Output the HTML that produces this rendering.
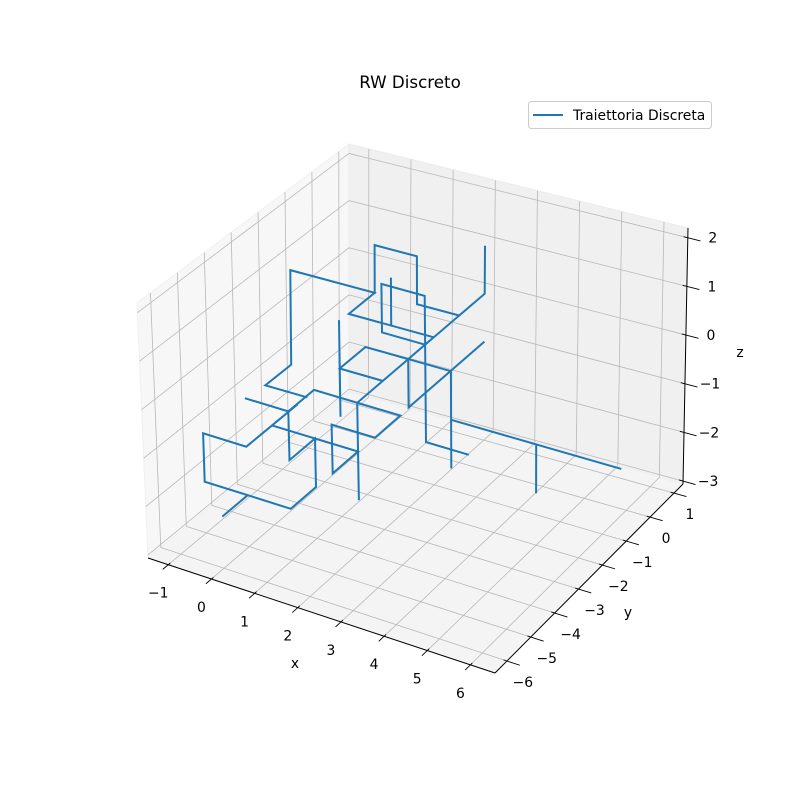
<!DOCTYPE html>
<html><head><meta charset="utf-8"><title>RW Discreto</title>
<style>
html,body{margin:0;padding:0;background:#fff;}
svg{display:block;font-family:"DejaVu Sans","Liberation Sans",sans-serif;}
</style></head>
<body>
<svg id="chart" width="800" height="800" viewBox="0 0 800 800" xmlns="http://www.w3.org/2000/svg">
<rect width="800" height="800" fill="#fff"/>
<g id="panes"></g>
<g id="grid"></g>
<g id="axes"></g>
<g id="series"></g>
<g id="labels"></g>
<text x="410" y="88" text-anchor="middle" font-size="16.7" fill="#000">RW Discreto</text>
<text x="295" y="668" text-anchor="middle" font-size="13.9" fill="#000">x</text>
<text x="628" y="617" text-anchor="middle" font-size="13.9" fill="#000">y</text>
<text x="740" y="357" text-anchor="middle" font-size="13.9" fill="#000">z</text>
<g>
<rect x="528.5" y="101.5" width="183" height="27" rx="3" fill="#fff" fill-opacity="0.8" stroke="#cccccc"/>
<line x1="533" y1="115" x2="563" y2="115" stroke="#1f77b4" stroke-width="2"/>
<text x="573" y="120" font-size="13.9" fill="#000">Traiettoria Discreta</text>
</g>
</svg>
<script>
const xs = [0,0,-1,-1,0,0,0,2,2,2,3,3,1,1,0,1,1,1,1,1,0,1,1,1,2,2,2,2,2,2,2,1,1,0,0,-2,-2,-2,-1,-2,-2,-2,0,0,2,2,1,1,2,1,1,1,1,1,3,3,3,5,5,5,7,null,4,3,3,2,2,3,null,2,2,2,null,1,1];
const ys = [-6,-5,-5,-5,-5,-3,-4,-4,-5,-5,-5,-4,-4,-5,-5,-5,-5,-4,-4,-5,-5,-5,-4,-4,-4,-4,-4,1,1,1,0,0,0,0,0,0,0,-1,-1,-1,0,0,0,-1,-1,-2,-2,-3,-3,-3,-3,-3,-3,-2,-2,-2,-2,-2,-2,-2,-2,null,-3,-3,-3,-3,-3,-3,null,-2,-2,1,null,-1,-1];
const zs = [-2,-2,-2,-1,-1,-1,-1,-1,-1,0,0,0,0,0,0,0,-1,-1,-2,-2,-2,-2,-2,-1,-1,-2,0,0,1,0,0,0,1,1,0,0,-2,-2,-2,-2,-2,0,0,0,0,0,0,0,0,0,1,-1,0,0,0,-2,-1,-1,-2,-1,-1,null,-1,-1,2,2,1,1,null,0,-1,-1,null,0,1];
const xTicks = [-1,0,1,2,3,4,5,6];
const yTicks = [-6,-5,-4,-3,-2,-1,0,1];
const zTicks = [-3,-2,-1,0,1,2];

const XL=[-1.47,6.57], YL=[-6.5,1.38], ZL=[-3.06,2.2];
const C = {
 '000':[148,558],'100':[495,673],'110':[683,484],'010':[349,392],
 '001':[137,303],'101':[492,410],'111':[688,228],'011':[349,144]
};
function lerp(a,b,t){return [a[0]+(b[0]-a[0])*t,a[1]+(b[1]-a[1])*t];}
function P(x,y,z){
  const fx=(x-XL[0])/(XL[1]-XL[0]), fy=(y-YL[0])/(YL[1]-YL[0]), fz=(z-ZL[0])/(ZL[1]-ZL[0]);
  const f0=lerp(lerp(C['000'],C['100'],fx),lerp(C['010'],C['110'],fx),fy);
  const f1=lerp(lerp(C['001'],C['101'],fx),lerp(C['011'],C['111'],fx),fy);
  return lerp(f0,f1,fz);
}
const NS='http://www.w3.org/2000/svg';
function mk(tag,attrs,parent){const e=document.createElementNS(NS,tag);for(const k in attrs)e.setAttribute(k,attrs[k]);parent.appendChild(e);return e;}
function pstr(a){return a.map(p=>p[0].toFixed(1)+','+p[1].toFixed(1)).join(' ');}

const panes=document.getElementById('panes');
let e;
e=mk('polygon',{points:pstr([P(XL[0],YL[0],ZL[0]),P(XL[0],YL[1],ZL[0]),P(XL[0],YL[1],ZL[1]),P(XL[0],YL[0],ZL[1])]),fill:'#f7f7f7',stroke:'#f0f0f0'},panes);


e=mk('polygon',{points:pstr([P(XL[0],YL[1],ZL[0]),P(XL[1],YL[1],ZL[0]),P(XL[1],YL[1],ZL[1]),P(XL[0],YL[1],ZL[1])]),fill:'#f0f0f0',stroke:'#ebebeb'},panes);


e=mk('polygon',{points:pstr([P(XL[0],YL[0],ZL[0]),P(XL[1],YL[0],ZL[0]),P(XL[1],YL[1],ZL[0]),P(XL[0],YL[1],ZL[0])]),fill:'#f4f4f4',stroke:'#f0f0f0'},panes);



const grid=document.getElementById('grid');
function gl(a,b,name){const l=mk('line',{x1:a[0],y1:a[1],x2:b[0],y2:b[1],stroke:'#b8b8b8','stroke-width':0.8},grid);
 
 }
xTicks.forEach(x=>{gl(P(x,YL[0],ZL[0]),P(x,YL[1],ZL[0]),'x-gridline-floor');gl(P(x,YL[1],ZL[0]),P(x,YL[1],ZL[1]),'x-gridline-back');});
yTicks.forEach(y=>{gl(P(XL[0],y,ZL[0]),P(XL[1],y,ZL[0]),'y-gridline-floor');gl(P(XL[0],y,ZL[0]),P(XL[0],y,ZL[1]),'y-gridline-left');});
zTicks.forEach(z=>{gl(P(XL[0],YL[0],z),P(XL[0],YL[1],z),'z-gridline-left');gl(P(XL[0],YL[1],z),P(XL[1],YL[1],z),'z-gridline-back');});

const axes=document.getElementById('axes');
function al(a,b,name,w){const l=mk('line',{x1:a[0],y1:a[1],x2:b[0],y2:b[1],stroke:'#000','stroke-width':w},axes);
 
 }
al(P(XL[0],YL[0],ZL[0]),P(XL[1],YL[0],ZL[0]),'x-axis-line',1);
al(P(XL[1],YL[0],ZL[0]),P(XL[1],YL[1],ZL[0]),'y-axis-line',1);
al(P(XL[1],YL[1],ZL[0]),P(XL[1],YL[1],ZL[1]),'z-axis-line',1);

const labels=document.getElementById('labels');
function lab(p,txt,anchor,name){const t=mk('text',{x:p[0].toFixed(1),y:p[1].toFixed(1),'text-anchor':anchor,'font-size':13.9,fill:'#000'},labels);
 t.textContent=txt;
 
 }
function fmt(v){return v<0?'\u2212'+(-v):String(v);}
xTicks.forEach(x=>{al(P(x,YL[0]-0.22,ZL[0]),P(x,YL[0]+0.08,ZL[0]),'x-tick',0.9);const p=P(x,YL[0],ZL[0]);lab([p[0]-10,p[1]+33],fmt(x),'middle','x-tick-label');});
yTicks.forEach(y=>{al(P(XL[1]-0.08,y,ZL[0]),P(XL[1]+0.3,y,ZL[0]),'y-tick',0.9);const p=P(XL[1],y,ZL[0]);lab([p[0]+16,p[1]+26],fmt(y),'middle','y-tick-label');});
zTicks.forEach(z=>{al(P(XL[1]-0.1,YL[1],z),P(XL[1]+0.3,YL[1],z),'z-tick',0.9);const p=P(XL[1],YL[1],z);lab([p[0]+25,p[1]+5],fmt(z),'middle','z-tick-label');});

const series=document.getElementById('series');
let seg=[];
function flush(){if(seg.length>1){const pl=mk('polyline',{points:pstr(seg),fill:'none',stroke:'#1f77b4','stroke-width':2,'stroke-linejoin':'miter'},series);
 
 }seg=[];}
for(let i=0;i<xs.length;i++){
  if(xs[i]===null||ys[i]===null||zs[i]===null){flush();continue;}
  seg.push(P(xs[i],ys[i],zs[i]));
}
flush();
</script>
</body></html>
